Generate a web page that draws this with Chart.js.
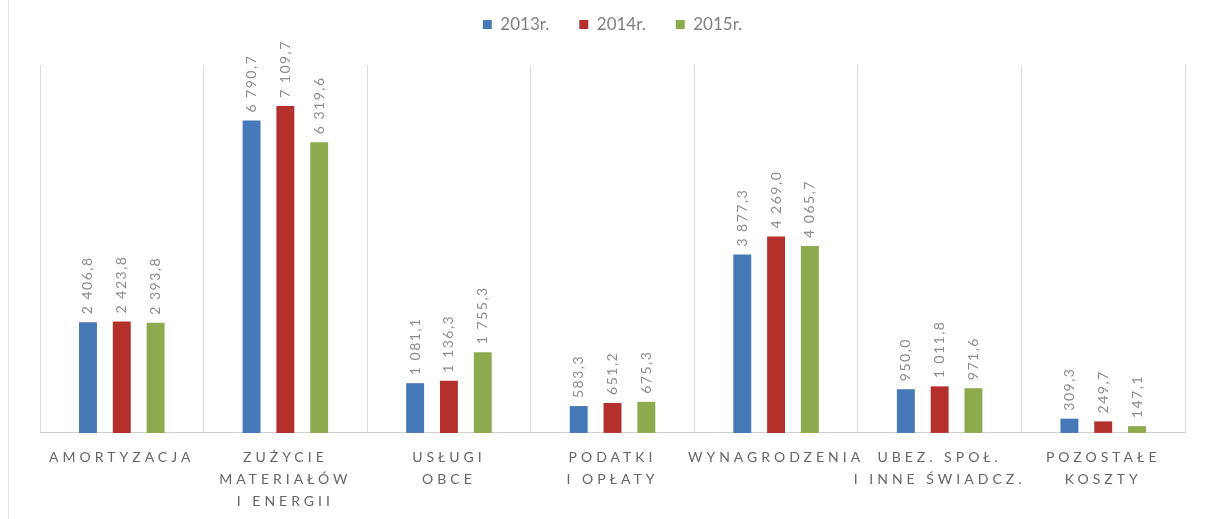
<!DOCTYPE html>
<html>
<head>
<meta charset="utf-8">
<script src="https://cdn.jsdelivr.net/npm/chart.js@4/dist/chart.umd.min.js"></script>
<style>
  html, body { margin: 0; padding: 0; background: #fff; }
  #wrap { position: relative; width: 1205px; height: 519px; }
  #edge { position: absolute; left: 8px; top: 0; width: 1px; height: 519px; background: #e4e4e4; }
</style>
</head>
<body>
<div id="wrap">
  <div id="edge"></div>
  <canvas id="chart" width="1205" height="519"></canvas>
</div>
<script>
var categories = [
    'AMORTYZACJA',
    ['ZUŻYCIE', 'MATERIAŁÓW', 'I ENERGII'],
    ['USŁUGI', 'OBCE'],
    ['PODATKI', 'I OPŁATY'],
    'WYNAGRODZENIA',
    ['UBEZ. SPOŁ.', 'I INNE ŚWIADCZ.'],
    ['POZOSTAŁE', 'KOSZTY']
];
var seriesNames = ['2013r.', '2014r.', '2015r.'];
var values2013 = [2406.8, 6790.7, 1081.1, 583.3, 3877.3, 950.0, 309.3];
var values2014 = [2423.8, 7109.7, 1136.3, 651.2, 4269.0, 1011.8, 249.7];
var values2015 = [2393.8, 6319.6, 1755.3, 675.3, 4065.7, 971.6, 147.1];
var colors = ['#4579b8', '#b3302c', '#8dab4e'];

function formatPl(v) {
    var parts = v.toFixed(1).split('.');
    parts[0] = parts[0].replace(/\B(?=(\d{3})+(?!\d))/g, ' ');
    return parts.join(',');
}

// rotated value labels above each bar
var valueLabels = {
    id: 'valueLabels',
    afterDatasetsDraw: function (chart) {
        var ctx = chart.ctx;
        ctx.save();
        ctx.letterSpacing = '1.5px';
        ctx.font = '14px Lato';
        ctx.fillStyle = '#8c8c8c';
        ctx.textAlign = 'left';
        ctx.textBaseline = 'middle';
        chart.data.datasets.forEach(function (ds, i) {
            chart.getDatasetMeta(i).data.forEach(function (bar, j) {
                ctx.save();
                ctx.translate(bar.x, bar.y - 8);
                ctx.rotate(-Math.PI / 2);
                ctx.fillText(formatPl(ds.data[j]), 0, 0);
                ctx.restore();
            });
        });
        ctx.restore();
    }
};

// extra room under the legend, wide letter spacing for the category labels
var tweaks = {
    id: 'tweaks',
    afterInit: function (chart) {
        var lg = chart.legend;
        var fit = lg.fit;
        lg.fit = function () { fit.call(this); this.height += 22; };
    },
    afterLayout: function (chart) {
        var sx = chart.scales.x;
        if (sx._spaced) return;
        var drawLabels = sx.drawLabels;
        sx.drawLabels = function (area) {
            this.ctx.save();
            this.ctx.letterSpacing = '4px';
            drawLabels.call(this, area);
            this.ctx.restore();
        };
        sx._spaced = true;
    }
};

var ctx = document.getElementById('chart').getContext('2d');
new Chart(ctx, {
    type: 'bar',
    data: {
        labels: categories,
        datasets: [
            { label: seriesNames[0], data: values2013, backgroundColor: colors[0] },
            { label: seriesNames[1], data: values2014, backgroundColor: colors[1] },
            { label: seriesNames[2], data: values2015, backgroundColor: colors[2] }
        ]
    },
    options: {
        responsive: false,
        animation: false,
        categoryPercentage: 0.62,
        barPercentage: 0.53,
        layout: { padding: { left: 40, right: 20, top: -14, bottom: -7 } },
        plugins: {
            legend: {
                position: 'top',
                labels: {
                    boxWidth: 9,
                    boxHeight: 9,
                    padding: 30,
                    color: '#7f7f7f',
                    font: { family: 'Lato', size: 17 }
                }
            },
            tooltip: { enabled: false }
        },
        scales: {
            x: {
                grid: { offset: true, color: '#dcdcdc', drawTicks: false },
                border: { color: '#d0d0d0' },
                ticks: {
                    color: '#666666',
                    padding: 14,
                    maxRotation: 0,
                    autoSkip: false,
                    font: { family: 'Lato', size: 14, lineHeight: 1.55 }
                }
            },
            y: {
                display: false,
                min: 0,
                max: 8000
            }
        }
    },
    plugins: [tweaks, valueLabels]
});
</script>
</body>
</html>
